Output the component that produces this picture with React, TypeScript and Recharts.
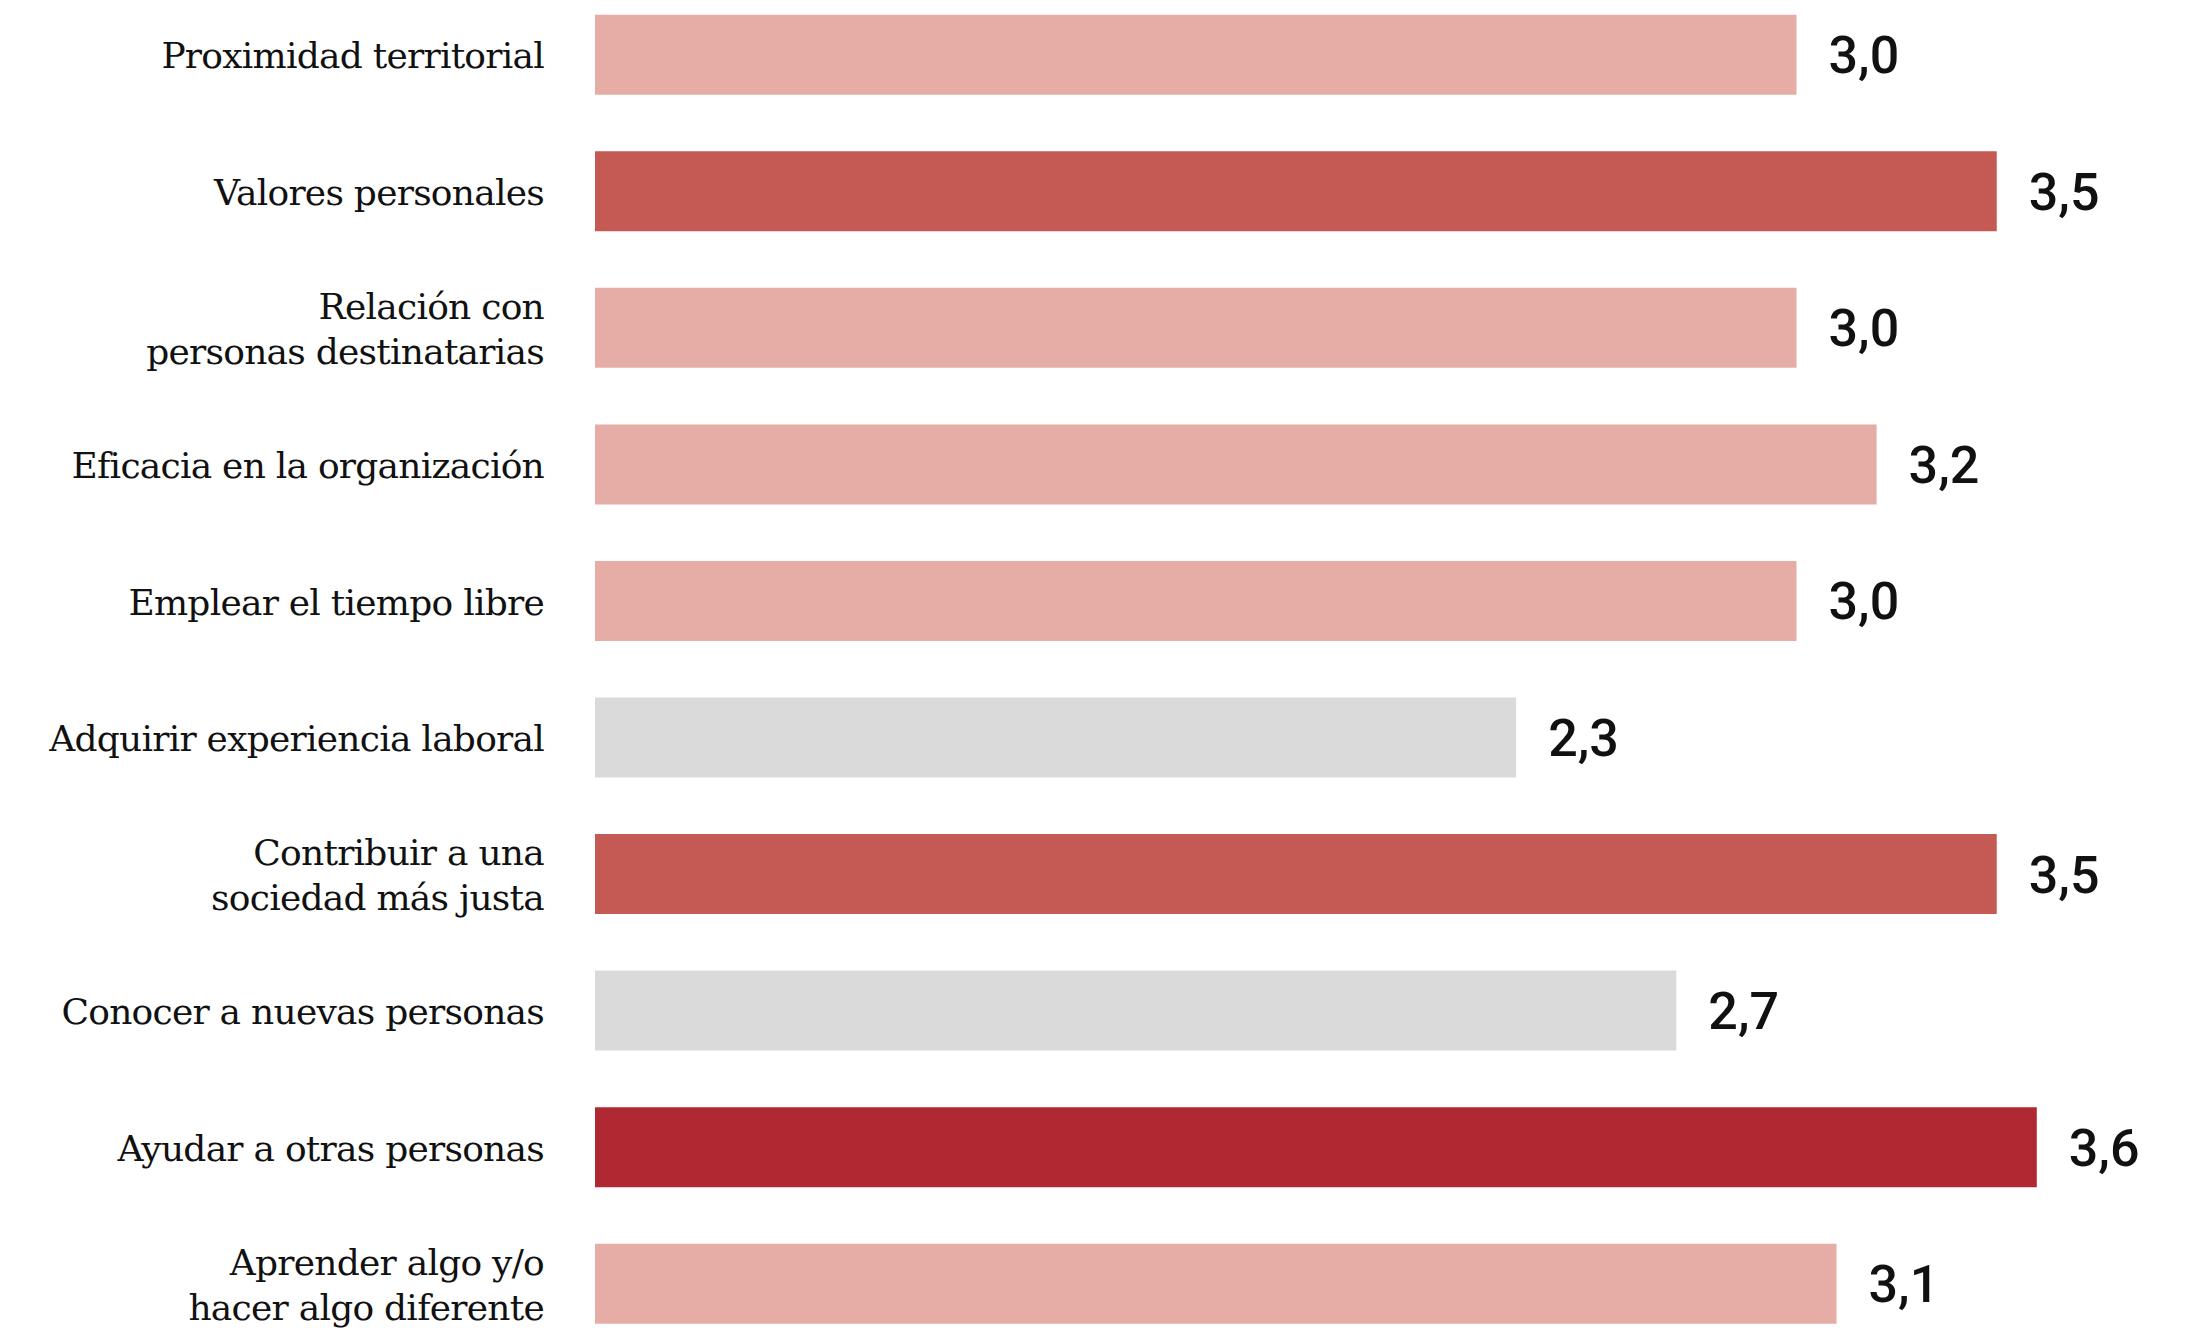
import React from "react";
import { BarChart, Bar, XAxis, YAxis, Cell, LabelList } from "recharts";

const categories = [
  "Proximidad territorial",
  "Valores personales",
  "Relación con\npersonas destinatarias",
  "Eficacia en la organización",
  "Emplear el tiempo libre",
  "Adquirir experiencia laboral",
  "Contribuir a una\nsociedad más justa",
  "Conocer a nuevas personas",
  "Ayudar a otras personas",
  "Aprender algo y/o\nhacer algo diferente",
];

const scores = [3.0, 3.5, 3.0, 3.2, 3.0, 2.3, 3.5, 2.7, 3.6, 3.1];

const data = categories.map((name, i) => ({ name, score: scores[i] }));

// colour tier follows the score
const barColor = (v: number) => {
  if (v >= 3.6) return "#B02932";
  if (v >= 3.5) return "#C55A55";
  if (v >= 2.9) return "#E6ACA6";
  return "#DADADA";
};

const fmt = (v: number) => v.toFixed(1).replace(".", ",");

const CategoryTick = ({ x, y, payload }: any) => {
  const lines = String(payload.value).split("\n");
  const lineHeight = 45;
  const start = -((lines.length - 1) / 2) * lineHeight;
  return (
    <text
      x={x}
      y={y}
      textAnchor="end"
      fontFamily="'DejaVu Serif', serif"
      fontSize={36}
      letterSpacing={-0.75}
      fill="#111"
    >
      {lines.map((line, i) => (
        <tspan key={i} x={x} y={y + start + i * lineHeight} dy="0.37em">
          {line}
        </tspan>
      ))}
    </text>
  );
};

export default function App() {
  return (
    <div style={{ position: "absolute", top: 0, left: 0, background: "#fff" }}>
      <BarChart
        width={2197}
        height={1328}
        data={data}
        layout="vertical"
        margin={{ top: -13.3, right: 0, left: 0, bottom: -24.3 }}
      >
        <XAxis type="number" domain={[0, 4]} hide />
        <YAxis
          type="category"
          dataKey="name"
          width={595}
          axisLine={false}
          tickLine={false}
          tickSize={0}
          tickMargin={51}
          interval={0}
          tick={<CategoryTick />}
        />
        <Bar dataKey="score" barSize={80} isAnimationActive={false}>
          {data.map((d, i) => (
            <Cell key={i} fill={barColor(d.score)} />
          ))}
          <LabelList
            dataKey="score"
            position="right"
            offset={32}
            formatter={(v: any) => fmt(Number(v))}
            style={{
              fontFamily: "Roboto, sans-serif",
              fontSize: 52,
              fontWeight: 500,
              fill: "#111",
            }}
          />
        </Bar>
      </BarChart>
    </div>
  );
}
